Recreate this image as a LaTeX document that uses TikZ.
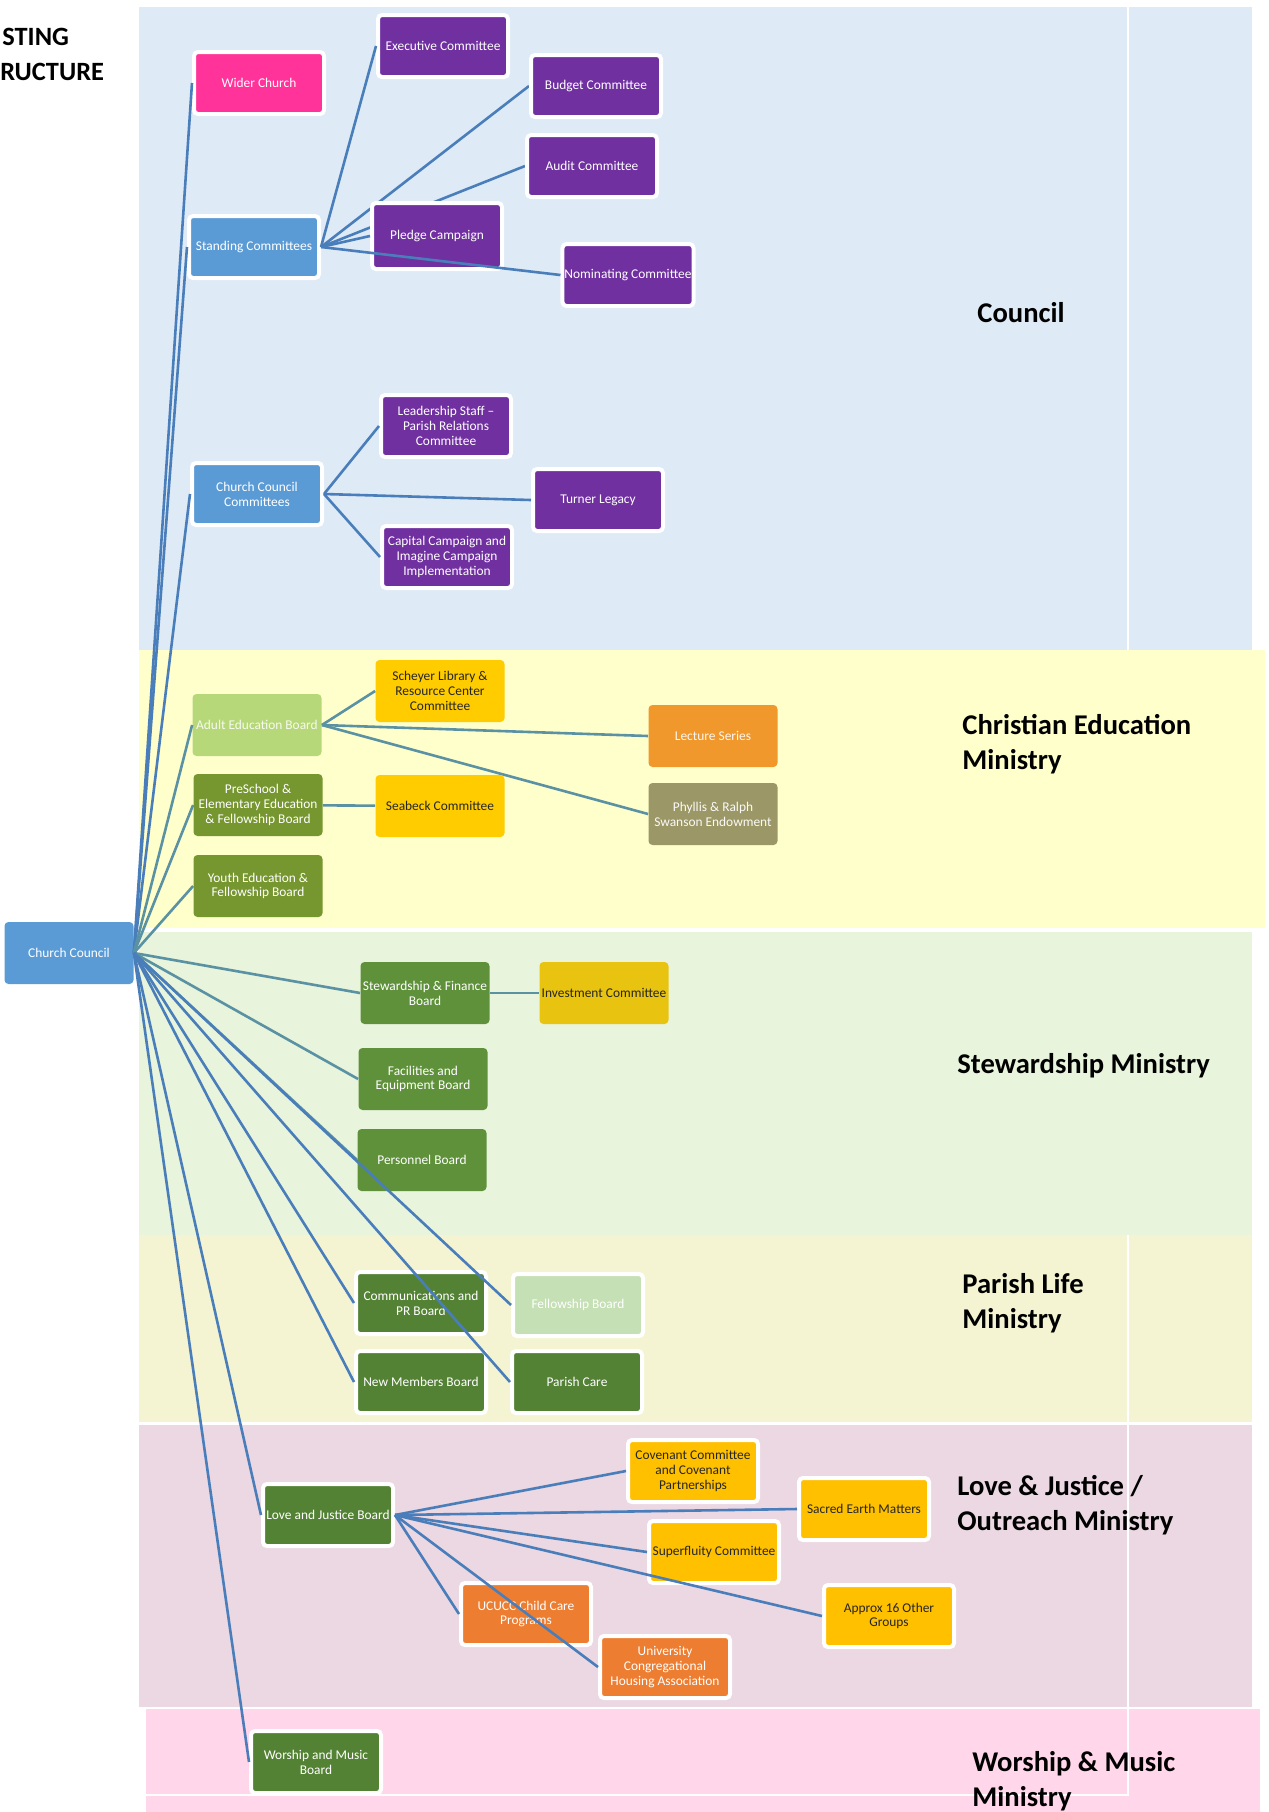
\documentclass[tikz,border=0pt]{standalone}
\usepackage{fontspec}
\setmainfont{Carlito}
\usepackage{xcolor}
\usepackage{tikz}

\definecolor{bandcouncil}{HTML}{DEEAF6}
\definecolor{bandeduc}{HTML}{FFFFCC}
\definecolor{bandstew}{HTML}{E8F4DC}
\definecolor{bandparish}{HTML}{F4F4D2}
\definecolor{bandlove}{HTML}{EBD8E2}
\definecolor{bandworship}{HTML}{FFD6EA}
\definecolor{unitpurple}{HTML}{7030A0}
\definecolor{unitblue}{HTML}{5B9BD5}
\definecolor{unitpink}{HTML}{FF3399}
\definecolor{unitlime}{HTML}{B7D879}
\definecolor{unitolive}{HTML}{76962F}
\definecolor{unitgreen}{HTML}{5F913B}
\definecolor{unitdark}{HTML}{548235}
\definecolor{unitpale}{HTML}{C5E0B4}
\definecolor{unitgold}{HTML}{FFCC00}
\definecolor{unitmustard}{HTML}{E8C30F}
\definecolor{unitamber}{HTML}{FFC000}
\definecolor{unitorange}{HTML}{ED7D31}
\definecolor{unitlecture}{HTML}{F0982C}
\definecolor{unitkhaki}{HTML}{9C9767}
\definecolor{lnblue}{HTML}{4A7EBB}
\definecolor{lnteal}{HTML}{5A92A4}

\pgfdeclarelayer{bands}
\pgfdeclarelayer{under}
\pgfsetlayers{bands,under,main}

\newcommand{\boxfont}{\fontsize{6.7pt}{7.4pt}\selectfont}
\newcommand{\headfont}{\fontsize{14.3pt}{17.5pt}\selectfont\bfseries}

\begin{document}
\begin{tikzpicture}[x=0.5pt, y=-0.5pt,
    unit/.style={rectangle, rounded corners=2pt, minimum width=64.5pt, minimum height=31pt, inner sep=1pt, align=center, font=\boxfont, text=white, fill=#1},
    wunit/.style={unit=#1, draw=white, line width=2pt, minimum width=65pt},
    link/.style={line width=1.3pt, #1},
    heading/.style={font=\headfont, anchor=west, align=left, inner sep=0pt}
]

\useasboundingbox (0,0) rectangle (1269,1812);

\begin{pgfonlayer}{bands}
\fill[white] (0,0) rectangle (1269,1812);
\fill[bandcouncil] (139,7) rectangle (1252,650);
\fill[bandeduc] (139,650) rectangle (1265,928);
\fill[bandstew] (139,932) rectangle (1252,1235);
\fill[bandparish] (139,1235) rectangle (1252,1422);
\fill[bandlove] (139,1425) rectangle (1252,1707);
\fill[bandworship] (146,1709) rectangle (1260,1812);
\draw[white, line width=0.8pt] (1128,7) -- (1128,650);
\draw[white, line width=0.8pt] (1128,1235) -- (1128,1795) -- (146,1795);
\end{pgfonlayer}

\node[heading, font=\fontsize{13.2pt}{16pt}\selectfont\bfseries] (title1) at (2,37) {STING};
\node[heading, font=\fontsize{13.2pt}{16pt}\selectfont\bfseries] (title2) at (0,72) {RUCTURE};

\node[heading] (hcouncil) at (977,313) {Council};
\node[heading] (heduc) at (962,744) {Christian Education\\Ministry};
\node[heading] (hstew) at (957,1066) {Stewardship Ministry};
\node[heading] (hparish) at (962,1303) {Parish Life\\Ministry};
\node[heading] (hlove) at (957,1505) {Love \& Justice /\\Outreach Ministry};
\node[heading] (hworship) at (972,1781) {Worship \& Music\\Ministry};

\node[unit=unitblue] (cc) at (69,953) {Church Council};

\node[wunit=unitpink] (wider) at (259,83) {Wider Church};
\node[wunit=unitblue] (standing) at (254,247) {Standing Committees};
\node[wunit=unitpurple] (exec) at (443,46) {Executive Committee};
\node[wunit=unitpurple] (budget) at (596,86) {Budget Committee};
\node[wunit=unitpurple] (audit) at (592,166) {Audit Committee};
\node[wunit=unitpurple, minimum height=33pt] (pledge) at (437,236) {Pledge Campaign};
\node[wunit=unitpurple] (nominating) at (628,275) {Nominating Committee};
\node[wunit=unitblue] (cccomm) at (257,494) {Church Council\\Committees};
\node[wunit=unitpurple] (leadership) at (446,426) {Leadership Staff --\\Parish Relations\\Committee};
\node[wunit=unitpurple] (turner) at (598,500) {Turner Legacy};
\node[wunit=unitpurple] (capital) at (447,557) {Capital Campaign and\\Imagine Campaign\\Implementation};

\node[unit=unitlime, text=white!88!unitlime] (adulted) at (257,725) {Adult Education Board};
\node[unit=unitolive] (preschool) at (258,805) {PreSchool \&\\Elementary Education\\\& Fellowship Board};
\node[unit=unitolive] (youth) at (258,886) {Youth Education \&\\Fellowship Board};
\node[unit=unitgold, text=black!85] (scheyer) at (440,691) {Scheyer Library \&\\Resource Center\\Committee};
\node[unit=unitgold, text=black!85] (seabeck) at (440,806) {Seabeck Committee};
\node[unit=unitlecture, text=white!92!unitlecture] (lecture) at (713,736) {Lecture Series};
\node[unit=unitkhaki, text=white!95!unitkhaki] (phyllis) at (713,814) {Phyllis \& Ralph\\Swanson Endowment};

\node[unit=unitgreen] (stewfin) at (425,993) {Stewardship \& Finance\\Board};
\node[unit=unitmustard, text=black!85] (invest) at (604,993) {Investment Committee};
\node[unit=unitgreen] (facilities) at (423,1079) {Facilities and\\Equipment Board};
\node[unit=unitgreen] (personnel) at (422,1160) {Personnel Board};

\node[wunit=unitdark] (comms) at (421,1303) {Communications and\\PR Board};
\node[wunit=unitpale] (fellowship) at (578,1305) {Fellowship Board};
\node[wunit=unitdark] (newmem) at (421,1382) {New Members Board};
\node[wunit=unitdark] (parishcare) at (577,1382) {Parish Care};

\node[wunit=unitdark] (ljboard) at (328,1515) {Love and Justice Board};
\node[wunit=unitamber, text=black!85] (covenant) at (693,1471) {Covenant Committee\\and Covenant\\Partnerships};
\node[wunit=unitamber, text=black!85] (sacred) at (864,1509) {Sacred Earth Matters};
\node[wunit=unitamber, text=black!85] (superfluity) at (714,1552) {Superfluity Committee};
\node[wunit=unitamber, text=black!85] (approx) at (889,1616) {Approx 16 Other\\Groups};
\node[wunit=unitorange] (ucucc) at (526,1614) {UCUCC Child Care\\Programs};
\node[wunit=unitorange] (university) at (665,1667) {University\\Congregational\\Housing Association};

\node[wunit=unitdark] (worship) at (316,1762) {Worship and Music\\Board};

\begin{pgfonlayer}{under}
\draw[link=lnblue] (standing.east) -- (budget.west);
\draw[link=lnblue] (standing.east) -- (audit.west);
\draw[link=lnteal] (adulted.east) -- (phyllis.west);
\end{pgfonlayer}

\foreach \n in {wider,standing,cccomm} {
    \draw[link=lnblue] (cc.east) -- (\n.west);
}
\foreach \n in {adulted,preschool,youth,stewfin,facilities,personnel} {
    \draw[link=lnteal] (cc.east) -- (\n.west);
}
\foreach \n in {comms,newmem,fellowship,parishcare,ljboard,worship} {
    \draw[link=lnblue] (cc.east) -- (\n.west);
}

\foreach \n in {exec,pledge,nominating} {
    \draw[link=lnblue] (standing.east) -- (\n.west);
}
\foreach \n in {leadership,turner,capital} {
    \draw[link=lnblue] (cccomm.east) -- (\n.west);
}
\foreach \n in {scheyer,lecture} {
    \draw[link=lnteal] (adulted.east) -- (\n.west);
}
\draw[link=lnteal] (preschool) -- (seabeck);
\draw[link=lnteal] (stewfin) -- (invest);
\foreach \n in {covenant,sacred,superfluity,approx,ucucc,university} {
    \draw[link=lnblue] (ljboard.east) -- (\n.west);
}

\end{tikzpicture}
\end{document}
